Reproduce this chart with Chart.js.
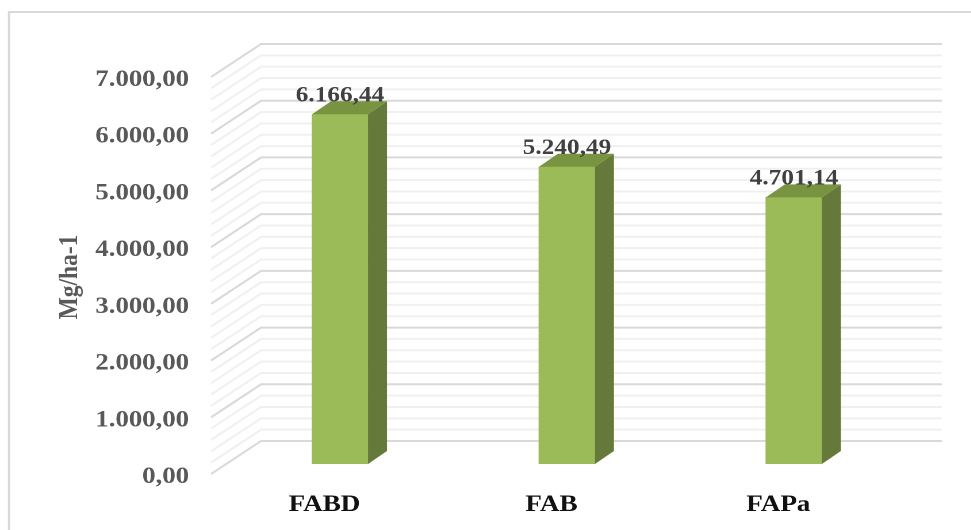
<!DOCTYPE html>
<html>
<head>
<meta charset="utf-8">
<title>Mg/ha-1</title>
<style>
    html, body { margin: 0; padding: 0; background: #fff; overflow: hidden; }
    #wrap { width: 844px; height: 530px; transform: scaleX(1.15); transform-origin: left top; }
</style>
</head>
<body>
<div id="wrap"><canvas id="myChart"></canvas></div>
<script src="https://cdn.jsdelivr.net/npm/chart.js@4"></script>
<script>
const categories = ['FABD', 'FAB', 'FAPa'];
const values = [6166.44, 5240.49, 4701.14];
const yMax = 7000;
const yMajorStep = 1000;
const yMinorStep = 200;
const axisTitle = 'Mg/ha-1';

// the bars stand in the middle of the floor, walls are offset from them
const frontDx = -13.5, frontDy = 10;
const backDx = 30, backDy = -23;
const barDx = 16.5, barDy = -13;

function fmt(v){
    const parts = v.toFixed(2).split('.');
    return parts[0].replace(/\B(?=(\d{3})+$)/g, '.') + ',' + parts[1];
}

const walls = {
    id: 'walls',
    beforeDraw(chart){
        const ctx = chart.ctx;
        ctx.save();
        ctx.strokeStyle = '#d9d9d9';
        ctx.lineWidth = 2;
        ctx.beginPath();
        ctx.moveTo(7.8, 530);
        ctx.lineTo(7.8, 12);
        ctx.lineTo(844, 12);
        ctx.stroke();
        ctx.restore();
    },
    beforeDatasetsDraw(chart){
        const ctx = chart.ctx, y = chart.scales.y;
        const left = chart.chartArea.left, right = chart.chartArea.right;
        ctx.save();
        for (let v = 0; v <= yMax; v += yMinorStep) {
            const py = y.getPixelForValue(v);
            ctx.strokeStyle = v % yMajorStep === 0 ? '#d9d9d9' : '#f0f0f0';
            ctx.lineWidth = 2;
            ctx.beginPath();
            ctx.moveTo(left + frontDx, py + frontDy);
            ctx.lineTo(left + backDx, py + backDy);
            ctx.lineTo(right + backDx, py + backDy);
            ctx.stroke();
        }
        ctx.restore();
    }
};

const bars3d = {
    id: 'bars3d',
    afterDatasetsDraw(chart){
        const ctx = chart.ctx;
        const meta = chart.getDatasetMeta(0);
        ctx.save();
        meta.data.forEach(function(bar, i){
            const l = bar.x - bar.width / 2, r = bar.x + bar.width / 2;
            // side face
            ctx.fillStyle = '#65793a';
            ctx.beginPath();
            ctx.moveTo(r, bar.y);
            ctx.lineTo(r + barDx, bar.y + barDy);
            ctx.lineTo(r + barDx, bar.base + barDy);
            ctx.lineTo(r, bar.base);
            ctx.closePath();
            ctx.fill();
            // top face
            ctx.fillStyle = '#799441';
            ctx.beginPath();
            ctx.moveTo(l, bar.y);
            ctx.lineTo(l + barDx, bar.y + barDy);
            ctx.lineTo(r + barDx, bar.y + barDy);
            ctx.lineTo(r, bar.y);
            ctx.closePath();
            ctx.fill();
            // value on top of the bar
            ctx.fillStyle = '#404040';
            ctx.font = 'bold 22px "Liberation Serif"';
            ctx.textAlign = 'center';
            ctx.textBaseline = 'alphabetic';
            ctx.fillText(fmt(values[i]), bar.x, bar.y + barDy);
        });
        // axis title, rotated
        ctx.translate(61, 277);
        ctx.rotate(-Math.PI / 2);
        ctx.fillStyle = '#595959';
        ctx.font = 'bold 23.5px "Liberation Serif"';
        ctx.textAlign = 'center';
        ctx.textBaseline = 'middle';
        ctx.fillText(axisTitle, 0, 0);
        ctx.restore();
    }
};

new Chart(document.getElementById('myChart'), {
    type: 'bar',
    data: {
        labels: categories,
        datasets: [{
            data: values,
            backgroundColor: '#9bbb59',
            barThickness: 48.7
        }]
    },
    plugins: [walls, bars3d],
    options: {
        responsive: true,
        maintainAspectRatio: false,
        animation: false,
        devicePixelRatio: 2,
        layout: { padding: { top: 67, left: 0, right: 55, bottom: 0 } },
        plugins: { legend: { display: false }, tooltip: { enabled: false } },
        scales: {
            x: {
                afterFit(scale){ scale.height = 66; },
                grid: { display: false, drawTicks: false },
                border: { display: false },
                ticks: {
                    padding: 27,
                    labelOffset: -13.5,
                    color: '#111',
                    maxRotation: 0,
                    font: { family: '"Liberation Serif"', size: 23.5, weight: 'bold' }
                }
            },
            y: {
                min: 0,
                max: yMax,
                afterFit(scale){ scale.width = 197; },
                grid: { display: false, drawTicks: false },
                border: { display: false },
                ticks: {
                    stepSize: yMajorStep,
                    padding: 32.6,
                    labelOffset: 13,
                    color: '#595959',
                    font: { family: '"Liberation Serif"', size: 23.3, weight: 'bold' },
                    callback: function(v){ return fmt(v); }
                }
            }
        }
    }
});
</script>
</body>
</html>
